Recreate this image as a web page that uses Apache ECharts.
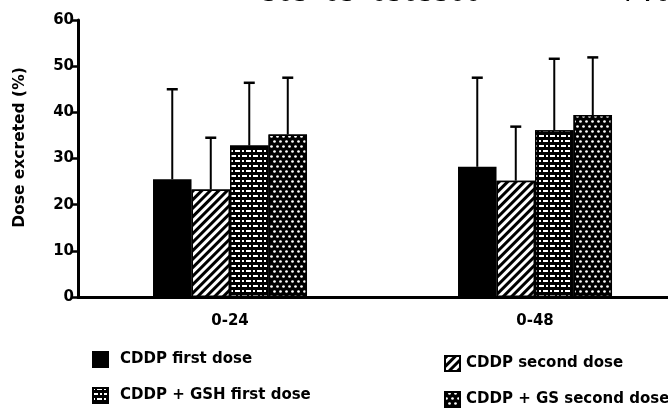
<!DOCTYPE html>
<html>
<head>
<meta charset="utf-8">
<script src="https://cdn.jsdelivr.net/npm/echarts@6/dist/echarts.min.js"></script>
<style>
  html, body { margin: 0; padding: 0; background: #fff; }
  #chart { width: 668px; height: 413px; }
</style>
</head>
<body>
<div id="chart"></div>
<script>
// Collection periods (h) and their positions on the x scale
const periods = ['0-24', '0-48'];
const periodPos = [1, 2];

// Series names, in bar order within each period
const seriesNames = [
  'CDDP first dose',
  'CDDP second dose',
  'CDDP + GSH first dose',
  'CDDP + GS second dose'
];

// Mean dose excreted (%) per series, one value per period
const cddpFirst = [25.5, 28.2];
const cddpSecond = [23.3, 25.2];
const gshFirst = [32.8, 36.1];
const gsSecond = [35.2, 39.4];

// Upper error (SD) per series, one value per period
const cddpFirstSd = [19.5, 19.3];
const cddpSecondSd = [11.2, 11.7];
const gshFirstSd = [13.6, 15.5];
const gsSecondSd = [12.3, 12.5];

// Y axis ticks
const yTicks = [0, 10, 20, 30, 40, 50, 60];

const means = [cddpFirst, cddpSecond, gshFirst, gsSecond];
const sds = [cddpFirstSd, cddpSecondSd, gshFirstSd, gsSecondSd];

const BAR_W = 38.5;
const FONT = '"DejaVu Sans", "Liberation Sans", sans-serif';

// Fill patterns: solid, diagonal hatch, brick-like, dotted
const patterns = [
  { color: '#000', decal: null },
  {
    color: '#fff',
    decal: {
      color: '#000', backgroundColor: '#fff', symbol: 'rect',
      dashArrayX: [[1, 0]], dashArrayY: [2.2, 3], rotation: -Math.PI / 4
    }
  },
  {
    color: '#000',
    decal: {
      color: '#fff', backgroundColor: '#000', symbol: 'rect',
      dashArrayX: [[5, 2, 2, 2], [2, 2, 5, 2]], dashArrayY: [1.5, 2.5], rotation: 0
    }
  },
  {
    color: '#000',
    decal: {
      color: '#fff', backgroundColor: '#000', symbol: 'circle', symbolSize: 0.9,
      dashArrayX: [[3, 2.5], [0, 2.75, 3, 0]], dashArrayY: [3, 1.5], rotation: 0
    }
  }
];

const barSeries = seriesNames.map((name, i) => {
  const p = patterns[i];
  const itemStyle = { color: p.color, borderColor: '#000', borderWidth: 1.5 };
  if (p.decal) itemStyle.decal = p.decal;
  return {
    name: name,
    type: 'bar',
    barWidth: BAR_W,
    barGap: '0%',
    itemStyle: itemStyle,
    data: periodPos.map((x, k) => [x, means[i][k]]),
    z: 2
  };
});

// Upper error whiskers drawn over each bar
const errorData = [];
seriesNames.forEach((name, i) => {
  periodPos.forEach((x, k) => {
    errorData.push([x, means[i][k], means[i][k] + sds[i][k], i]);
  });
});

const errorSeries = {
  type: 'custom',
  name: 'error',
  data: errorData,
  z: 3,
  renderItem: function (params, api) {
    const x = api.value(0);
    const idx = api.value(3);
    const dx = (idx - 1.5) * BAR_W;
    const top = api.coord([x, api.value(1)]);
    const hi = api.coord([x, api.value(2)]);
    const cx = top[0] + dx;
    return {
      type: 'group',
      children: [
        { type: 'line', shape: { x1: cx, y1: top[1], x2: cx, y2: hi[1] },
          style: { stroke: '#000', lineWidth: 2 } },
        { type: 'line', shape: { x1: cx - 5.5, y1: hi[1], x2: cx + 5.5, y2: hi[1] },
          style: { stroke: '#000', lineWidth: 2.5 } }
      ]
    };
  }
};

const chart = echarts.init(document.getElementById('chart'), null, { renderer: 'canvas' });

const legendBase = { fontFamily: FONT, fontWeight: 'bold', fontSize: 15, color: '#000' };

chart.setOption({
  backgroundColor: '#fff',
  animation: false,
  grid: { left: 78, right: 0, top: 20, bottom: 116 },
  xAxis: {
    type: 'value',
    min: 0.5016,
    max: 2.436,
    splitLine: { show: false },
    axisLine: { show: true, onZero: false, lineStyle: { color: '#000', width: 3 } },
    axisTick: { show: false },
    axisLabel: {
      customValues: periodPos,
      formatter: function (v) {
        const k = periodPos.indexOf(v);
        return k >= 0 ? periods[k] : '';
      },
      margin: 17,
      fontFamily: FONT, fontWeight: 'bold', fontSize: 15, color: '#000'
    }
  },
  yAxis: {
    type: 'value',
    min: yTicks[0],
    max: yTicks[yTicks.length - 1],
    interval: 10,
    name: 'Dose excreted (%)',
    nameLocation: 'middle',
    nameGap: 50,
    nameTextStyle: { fontFamily: FONT, fontWeight: 'bold', fontSize: 15.5, color: '#000', padding: [0, 0, 0, 22] },
    splitLine: { show: false },
    axisLine: { show: true, lineStyle: { color: '#000', width: 3 } },
    axisTick: { show: true, inside: false, length: 6, lineStyle: { color: '#000', width: 2.5 } },
    axisLabel: { fontFamily: FONT, fontWeight: 'bold', fontSize: 15, color: '#000', margin: 4 }
  },
  legend: [
    {
      data: [seriesNames[0], seriesNames[2]],
      orient: 'vertical', left: 92, top: 351, padding: 0,
      itemWidth: 15, itemHeight: 15, itemGap: 19,
      icon: 'rect',
      textStyle: Object.assign({ padding: [0, 0, 0, 7] }, legendBase),
      selectedMode: false
    },
    {
      data: [seriesNames[1], seriesNames[3]],
      orient: 'vertical', left: 444, top: 355, padding: 0,
      itemWidth: 15, itemHeight: 15, itemGap: 19,
      icon: 'rect',
      textStyle: Object.assign({ padding: [0, 0, 0, 1] }, legendBase),
      selectedMode: false
    }
  ],
  graphic: [
    { type: 'text', left: 262, top: -19,
      style: { text: '303 03 0303300', font: '26px "DejaVu Sans Mono", monospace', fill: '#000' } },
    { type: 'text', left: 624, top: -19,
      style: { text: 'P.02', font: '26px "DejaVu Sans Mono", monospace', fill: '#000' } }
  ],
  series: barSeries.concat([errorSeries])
});
</script>
</body>
</html>
